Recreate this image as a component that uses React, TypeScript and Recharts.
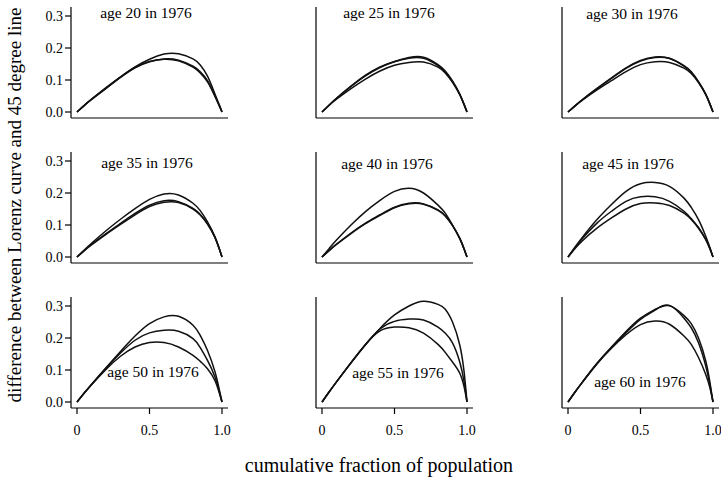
import { LineChart, Line, XAxis, YAxis } from "recharts";

// cumulative fraction of population (x of every curve)
const fraction = [0, 0.05, 0.1, 0.2, 0.3, 0.4, 0.5, 0.6, 0.7, 0.8, 0.85, 0.9, 0.95, 0.98, 1.0];

// difference between Lorenz curve and 45 degree line, three curves per cohort
const age20 = [
  [0, 0.02, 0.039, 0.074, 0.108, 0.138, 0.157, 0.166, 0.162, 0.143, 0.126, 0.098, 0.052, 0.022, 0],
  [0, 0.021, 0.04, 0.076, 0.11, 0.139, 0.158, 0.165, 0.16, 0.14, 0.122, 0.094, 0.05, 0.02, 0],
  [0, 0.02, 0.039, 0.074, 0.109, 0.141, 0.165, 0.181, 0.182, 0.166, 0.147, 0.112, 0.058, 0.024, 0],
];
const age25 = [
  [0, 0.022, 0.043, 0.081, 0.115, 0.141, 0.158, 0.17, 0.171, 0.148, 0.128, 0.097, 0.056, 0.024, 0],
  [0, 0.022, 0.043, 0.08, 0.113, 0.139, 0.157, 0.168, 0.168, 0.145, 0.125, 0.095, 0.055, 0.023, 0],
  [0, 0.021, 0.04, 0.073, 0.103, 0.128, 0.146, 0.155, 0.156, 0.14, 0.122, 0.093, 0.054, 0.023, 0],
];
const age30 = [
  [0, 0.02, 0.039, 0.074, 0.107, 0.138, 0.161, 0.172, 0.168, 0.145, 0.126, 0.095, 0.056, 0.024, 0],
  [0, 0.02, 0.039, 0.073, 0.105, 0.136, 0.159, 0.17, 0.167, 0.143, 0.124, 0.094, 0.055, 0.023, 0],
  [0, 0.019, 0.037, 0.069, 0.098, 0.126, 0.148, 0.157, 0.155, 0.137, 0.12, 0.092, 0.054, 0.023, 0],
];
const age35 = [
  [0, 0.022, 0.043, 0.082, 0.118, 0.151, 0.18, 0.197, 0.194, 0.168, 0.145, 0.11, 0.065, 0.028, 0],
  [0, 0.02, 0.039, 0.073, 0.105, 0.136, 0.162, 0.176, 0.173, 0.152, 0.133, 0.104, 0.063, 0.027, 0],
  [0, 0.02, 0.038, 0.071, 0.102, 0.132, 0.158, 0.171, 0.17, 0.15, 0.131, 0.103, 0.062, 0.027, 0],
];
const age40 = [
  [0, 0.027, 0.053, 0.1, 0.142, 0.177, 0.205, 0.215, 0.2, 0.162, 0.137, 0.1, 0.058, 0.025, 0],
  [0, 0.02, 0.039, 0.073, 0.104, 0.13, 0.154, 0.166, 0.165, 0.146, 0.128, 0.098, 0.058, 0.025, 0],
  [0, 0.021, 0.04, 0.075, 0.106, 0.132, 0.156, 0.168, 0.166, 0.147, 0.129, 0.099, 0.058, 0.025, 0],
];
const age45 = [
  [0, 0.032, 0.062, 0.117, 0.164, 0.205, 0.229, 0.233, 0.221, 0.184, 0.155, 0.117, 0.065, 0.028, 0],
  [0, 0.03, 0.058, 0.106, 0.143, 0.174, 0.188, 0.188, 0.174, 0.143, 0.12, 0.092, 0.055, 0.024, 0],
  [0, 0.027, 0.051, 0.09, 0.122, 0.15, 0.167, 0.169, 0.161, 0.137, 0.117, 0.09, 0.054, 0.024, 0],
];
const age50 = [
  [0, 0.028, 0.055, 0.107, 0.158, 0.206, 0.245, 0.266, 0.268, 0.24, 0.208, 0.161, 0.097, 0.042, 0],
  [0, 0.028, 0.055, 0.106, 0.153, 0.193, 0.216, 0.224, 0.221, 0.198, 0.17, 0.13, 0.08, 0.035, 0],
  [0, 0.028, 0.054, 0.102, 0.143, 0.172, 0.186, 0.186, 0.172, 0.146, 0.127, 0.104, 0.068, 0.03, 0],
];
const age55 = [
  [0, 0.032, 0.063, 0.123, 0.18, 0.23, 0.272, 0.3, 0.315, 0.305, 0.29, 0.25, 0.178, 0.094, 0],
  [0, 0.032, 0.063, 0.123, 0.18, 0.228, 0.252, 0.259, 0.256, 0.234, 0.215, 0.185, 0.125, 0.063, 0],
  [0, 0.032, 0.063, 0.122, 0.179, 0.222, 0.234, 0.232, 0.215, 0.18, 0.155, 0.125, 0.09, 0.047, 0],
];
const age60 = [
  [0, 0.032, 0.063, 0.121, 0.172, 0.22, 0.262, 0.289, 0.301, 0.27, 0.245, 0.2, 0.128, 0.058, 0],
  [0, 0.032, 0.062, 0.12, 0.17, 0.216, 0.258, 0.287, 0.302, 0.262, 0.232, 0.185, 0.112, 0.05, 0],
  [0, 0.032, 0.062, 0.119, 0.168, 0.21, 0.242, 0.253, 0.243, 0.206, 0.18, 0.139, 0.086, 0.042, 0],
];

const ages = [20, 25, 30, 35, 40, 45, 50, 55, 60];
const cohorts = [age20, age25, age30, age35, age40, age45, age50, age55, age60];
const yTicks = [0, 0.1, 0.2, 0.3];
const xTicks = [0, 0.5, 1];
const yTitle = "difference between Lorenz curve and 45 degree line";
const xTitle = "cumulative fraction of population";

// layout
const colLeft = [71, 316, 562];
const rowTop = [7, 152, 297];
const labelAt = [
  [146, 13], [389, 13], [632, 14],
  [147, 163], [387, 164], [628, 164],
  [153, 372], [398, 373], [640, 382],
];
const font = "'Liberation Serif', 'Times New Roman', serif";
const axisStyle = { stroke: "#000", strokeWidth: 1.2 };
const tickText = { fill: "#000", fontSize: 14, fontFamily: font };

const Panel = ({ index }: { index: number }) => {
  const row = Math.floor(index / 3);
  const col = index % 3;
  const curves = cohorts[index];
  const rows = fraction.map((x, i) => ({ x, a: curves[0][i], b: curves[1][i], c: curves[2][i] }));
  return (
    <div style={{ position: "absolute", left: colLeft[col] - 40, top: rowTop[row] - 10 }}>
      <LineChart width={207} height={151} data={rows} margin={{ top: 10, right: 10, bottom: 0, left: 0 }}>
        <XAxis
          type="number"
          dataKey="x"
          domain={[-6 / 145, 1 + 6 / 145]}
          allowDataOverflow
          ticks={xTicks}
          interval={0}
          height={30}
          tickSize={6}
          tickMargin={11}
          axisLine={axisStyle}
          tickLine={axisStyle}
          tick={row === 2 ? tickText : false}
          tickFormatter={(v: number) => (v === 0 ? "0" : v.toFixed(1))}
        />
        <YAxis
          type="number"
          domain={[-6 / 320, 0.3 + 9 / 320]}
          allowDataOverflow
          ticks={yTicks}
          interval={0}
          width={40}
          tickSize={6}
          tickMargin={2}
          axisLine={axisStyle}
          tickLine={axisStyle}
          tick={col === 0 ? tickText : false}
          tickFormatter={(v: number) => v.toFixed(1)}
        />
        {["a", "b", "c"].map((k) => (
          <Line key={k} dataKey={k} type="natural" stroke="#111" strokeWidth={1.5} dot={false} isAnimationActive={false} />
        ))}
      </LineChart>
      <div
        style={{
          position: "absolute",
          left: labelAt[index][0] - colLeft[col] + 40,
          top: labelAt[index][1] - rowTop[row] + 10,
          transform: "translate(-50%, -50%)",
          whiteSpace: "nowrap",
          fontSize: 15.5,
          lineHeight: 1,
        }}
      >
        {`age ${ages[index]} in 1976`}
      </div>
    </div>
  );
};

export default function App() {
  return (
    <div
      style={{
        position: "absolute",
        left: 0,
        top: 0,
        width: 721,
        height: 477,
        background: "#fff",
        color: "#000",
        fontFamily: font,
        overflow: "hidden",
      }}
    >
      {ages.map((_, i) => (
        <Panel key={i} index={i} />
      ))}
      <div
        style={{
          position: "absolute",
          left: 14,
          top: 205,
          transform: "translate(-50%, -50%) rotate(-90deg)",
          whiteSpace: "nowrap",
          fontSize: 19,
          lineHeight: 1,
        }}
      >
        {yTitle}
      </div>
      <div
        style={{
          position: "absolute",
          left: 379,
          top: 465,
          transform: "translate(-50%, -50%)",
          whiteSpace: "nowrap",
          fontSize: 20,
          lineHeight: 1,
        }}
      >
        {xTitle}
      </div>
    </div>
  );
}
